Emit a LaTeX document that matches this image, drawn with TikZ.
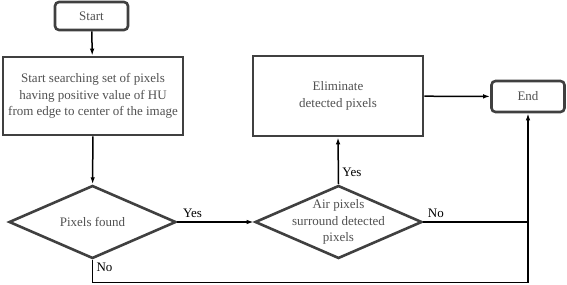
\documentclass[tikz,border=0pt]{standalone}
\usepackage{fontspec}
\setmainfont{Liberation Serif}
\usetikzlibrary{shapes.geometric, arrows.meta, positioning}
\definecolor{framegray}{HTML}{404040}
\definecolor{textgray}{HTML}{505050}

\begin{document}
\begin{tikzpicture}[
    x=1pt, y=1pt,
    every node/.style={font=\fontsize{13}{16.5}\selectfont},
    terminal/.style={draw=framegray, line width=2.6pt, rounded corners=4pt,
                     text=textgray, minimum width=73pt, minimum height=28pt},
    process/.style={draw=framegray, line width=2.6pt, text=textgray,
                    align=center, minimum width=180pt, minimum height=78pt},
    decision/.style={draw=framegray, line width=2.6pt, diamond, aspect=2.3,
                     inner sep=-8pt, text=textgray, align=center,
                     minimum width=167pt, minimum height=73pt},
    flow/.style={line width=1.5pt, -{Latex[length=7pt,width=4.5pt]}},
    lbl/.style={text=black}
]
    \useasboundingbox (0,0) rectangle (567,284);

    % Nodes
    \node[terminal] (start)  at (91.5, 268) {Start};
    \node[process]  (search) at (93, 188)
        {Start searching set of pixels\\having positive value of HU\\from edge to center of the image};
    \node[decision] (found)  at (92.5, 62) {Pixels found};
    \node[decision] (air)    at (338.5, 62) {Air pixels\\surround detected\\pixels};
    \node[process, minimum width=170pt, minimum height=80pt] (elim) at (338, 188)
        {Eliminate\\detected pixels};
    \node[terminal, minimum height=31pt] (end) at (528, 187.5) {End};

    \coordinate (join) at (end.south |- air.east);
    \coordinate (low)  at (found.south |- 0, 1.5);

    % Connectors
    \draw[flow] (start) -- (search);
    \draw[flow] (search) -- (found);
    \draw[flow] (found.east) -- node[lbl, above, pos=0.2] {Yes} (air.west);
    \draw[flow] (air.north) -- node[lbl, right, pos=0.25] {Yes} (elim.south);
    \draw[flow] (elim) -- (end);
    \draw[flow] (air.east) -- node[lbl, above, pos=0.12] {No} (join) -- (end.south);
    \draw[line width=1.5pt] (found.south) -- node[lbl, right, pos=0.35] {No} (low) -| (join);
\end{tikzpicture}
\end{document}
